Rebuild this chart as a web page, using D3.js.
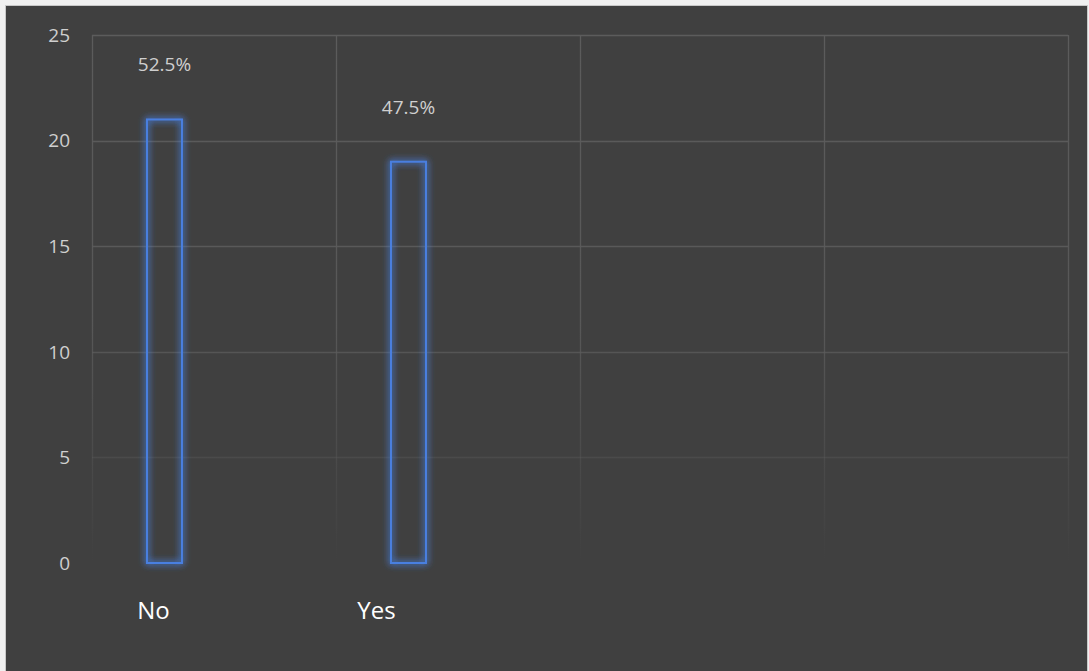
<!DOCTYPE html>
<html><head><meta charset="utf-8">
<script src="https://cdn.jsdelivr.net/npm/d3@7"></script>
<style>html,body{margin:0;padding:0;background:#f0f0f0;overflow:hidden}</style>
</head><body>
<svg id="c" width="1089" height="671"></svg>
<script>
const categories = ["No", "Yes", "", ""];
const counts = [21, 19];
const percentLabels = ["52.5%", "47.5%"];
const yTicks = [0, 5, 10, 15, 20, 25];

const W = 1089, H = 671;
const m = {left: 92, right: 1068, top: 35, bottom: 563};
const svg = d3.select("#c");
const font = "'Open Sans', 'DejaVu Sans', sans-serif";

const defs = svg.append("defs");
const glow = defs.append("filter").attr("id", "glow").attr("x", "-60%").attr("y", "-10%").attr("width", "220%").attr("height", "120%");
glow.append("feGaussianBlur").attr("in", "SourceGraphic").attr("stdDeviation", 3.5).attr("result", "b");
glow.append("feComponentTransfer").attr("in", "b").attr("result", "b2")
  .append("feFuncA").attr("type", "linear").attr("slope", 1.8);
const mg = glow.append("feMerge");
mg.append("feMergeNode").attr("in", "b2");
mg.append("feMergeNode").attr("in", "SourceGraphic");

const grad = defs.append("linearGradient").attr("id", "fade")
  .attr("gradientUnits", "userSpaceOnUse").attr("x1", 0).attr("x2", 0).attr("y1", m.top).attr("y2", m.bottom);
grad.append("stop").attr("offset", "0%").attr("stop-color", "#5c5c5c").attr("stop-opacity", 1);
grad.append("stop").attr("offset", "55%").attr("stop-color", "#5c5c5c").attr("stop-opacity", 0.85);
grad.append("stop").attr("offset", "100%").attr("stop-color", "#5c5c5c").attr("stop-opacity", 0);

svg.append("rect").attr("x", 5.5).attr("y", 5.5).attr("width", W - 7).attr("height", H - 5)
  .attr("fill", "#404040").attr("stroke", "#c8c8c8").attr("stroke-width", 1);

const x = d3.scaleBand().domain(d3.range(categories.length)).range([m.left, m.right]).padding(0);
const y = d3.scaleLinear().domain([0, 25]).range([m.bottom, m.top]);

// horizontal gridlines
svg.append("g").selectAll("line").data(yTicks.filter(t => t > 0)).join("line")
  .attr("x1", m.left).attr("x2", m.right)
  .attr("y1", d => Math.round(y(d)) + 0.5).attr("y2", d => Math.round(y(d)) + 0.5)
  .attr("stroke", "url(#fade)").attr("stroke-width", 1.3);
// vertical gridlines
const vx = d3.range(categories.length + 1).map(i => i < categories.length ? x(i) : m.right);
svg.append("g").selectAll("line").data(vx).join("line")
  .attr("x1", d => Math.round(d) + 0.5).attr("x2", d => Math.round(d) + 0.5)
  .attr("y1", m.top).attr("y2", m.bottom)
  .attr("stroke", "url(#fade)").attr("stroke-width", 1.3);

// y tick labels
svg.append("g").selectAll("text").data(yTicks).join("text")
  .attr("x", 70).attr("y", d => y(d)).attr("dy", "0.36em")
  .attr("text-anchor", "end").attr("fill", "#cfcfcf")
  .style("font-family", font).style("font-size", "19px")
  .text(d => d);

// bars (offset within band like a clustered column)
const barW = 35;
const barCenter = i => x(i) + x.bandwidth() * 0.297;
svg.append("g").selectAll("rect").data(counts).join("rect")
  .attr("x", (d, i) => barCenter(i) - barW / 2)
  .attr("y", d => y(d))
  .attr("width", barW)
  .attr("height", d => y(0) - y(d))
  .attr("fill", "none").attr("stroke", "#4a7fe0").attr("stroke-width", 2)
  .attr("filter", "url(#glow)");

// data labels
svg.append("g").selectAll("text").data(counts).join("text")
  .attr("x", (d, i) => barCenter(i)).attr("y", d => y(d) - 48)
  .attr("text-anchor", "middle").attr("fill", "#cfcfcf")
  .style("font-family", font).style("font-size", "19px")
  .text((d, i) => percentLabels[i]);

// category labels
const labelShift = [-11, -32];
svg.append("g").selectAll("text").data(categories.slice(0, counts.length)).join("text")
  .attr("x", (d, i) => barCenter(i) + labelShift[i]).attr("y", 619)
  .attr("text-anchor", "middle").attr("fill", "#ffffff")
  .style("font-family", font).style("font-size", "24px")
  .text(d => d);
</script>
</body></html>
